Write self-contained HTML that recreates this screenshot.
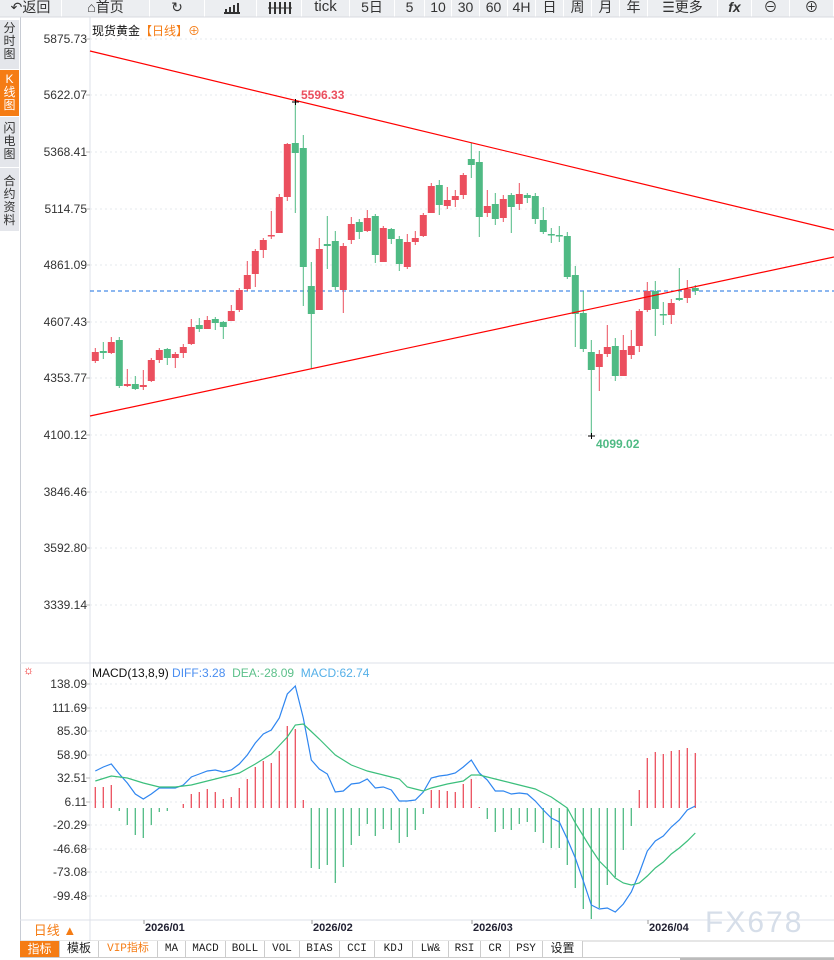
<!DOCTYPE html>
<html><head><meta charset="utf-8">
<style>
*{margin:0;padding:0;box-sizing:border-box}
body{width:834px;height:960px;background:#fff;position:relative;overflow:hidden;font-family:"Liberation Sans","Noto Sans CJK SC",sans-serif;color:#333}
.tb{position:absolute;top:0;height:17px;background:#eceef1;border-right:1px solid #fff;font-size:14px;line-height:14px;text-align:center;color:#333}
.side{position:absolute;left:0;width:19px;background:#e4e6eb;font-size:12px;line-height:13px;text-align:center;color:#333;border-bottom:1px solid #fff}
.bt{position:absolute;top:941px;height:16px;border-right:1px solid #ccc;font-family:"Liberation Mono","Noto Sans CJK SC",monospace;font-size:11px;line-height:16px;text-align:center;color:#222;background:#fff}
.pl{position:absolute;right:747px;font-size:12px;color:#333;line-height:12px}
</style></head><body>
<div class="tb" style="left:0;width:62px">↶返回</div>
<div class="tb" style="left:62px;width:88px">⌂首页</div>
<div class="tb" style="left:150px;width:55px">↻</div>
<div class="tb" style="left:205px;width:52px"></div>
<div class="tb" style="left:257px;width:45px"></div>
<div class="tb" style="left:302px;width:48px;font-size:15px">tick</div>
<div class="tb" style="left:350px;width:45px">5日</div>
<div class="tb" style="left:395px;width:30px">5</div>
<div class="tb" style="left:425px;width:27px">10</div>
<div class="tb" style="left:452px;width:28px">30</div>
<div class="tb" style="left:480px;width:28px">60</div>
<div class="tb" style="left:508px;width:28px">4H</div>
<div class="tb" style="left:536px;width:28px">日</div>
<div class="tb" style="left:564px;width:28px">周</div>
<div class="tb" style="left:592px;width:28px">月</div>
<div class="tb" style="left:620px;width:28px">年</div>
<div class="tb" style="left:648px;width:70px">☰更多</div>
<div class="tb" style="left:718px;width:34px;font-style:italic;font-weight:bold">fx</div>
<div class="tb" style="left:752px;width:38px">⊖</div>
<div class="tb" style="left:790px;width:44px">⊕</div>

<div class="side" style="top:20px;height:50px;padding-top:2px">分<br>时<br>图</div>
<div class="side" style="top:70px;height:47px;background:#f57c14;color:#fff;padding-top:3px">K<br>线<br>图</div>
<div class="side" style="top:117px;height:51px;padding-top:5px">闪<br>电<br>图</div>
<div class="side" style="top:168px;height:64px;padding-top:7px">合<br>约<br>资<br>料</div>
<div style="position:absolute;left:20px;top:17px;width:1px;height:940px;background:#c8ccd4"></div>

<div style="position:absolute;left:92px;top:22px;font-size:12px;color:#111">现货黄金<span style="color:#f57c14">【日线】⊕</span></div>
<div style="position:absolute;left:92px;top:666px;font-size:12px;color:#111">MACD(13,8,9) <span style="color:#4a8ef0">DIFF:3.28</span>&nbsp; <span style="color:#5cc08a">DEA:-28.09</span>&nbsp; <span style="color:#55b0e8">MACD:62.74</span></div>
<div style="position:absolute;left:23px;top:663px;font-size:12px;color:#e00">☼</div>

<div class="pl" style="top:33px">5875.73</div>
<div class="pl" style="top:89px">5622.07</div>
<div class="pl" style="top:146px">5368.41</div>
<div class="pl" style="top:203px">5114.75</div>
<div class="pl" style="top:259px">4861.09</div>
<div class="pl" style="top:316px">4607.43</div>
<div class="pl" style="top:372px">4353.77</div>
<div class="pl" style="top:429px">4100.12</div>
<div class="pl" style="top:486px">3846.46</div>
<div class="pl" style="top:542px">3592.80</div>
<div class="pl" style="top:599px">3339.14</div>
<div class="pl" style="top:678px">138.09</div>
<div class="pl" style="top:702px">111.69</div>
<div class="pl" style="top:725px">85.30</div>
<div class="pl" style="top:749px">58.90</div>
<div class="pl" style="top:772px">32.51</div>
<div class="pl" style="top:796px">6.11</div>
<div class="pl" style="top:819px">-20.29</div>
<div class="pl" style="top:843px">-46.68</div>
<div class="pl" style="top:866px">-73.08</div>
<div class="pl" style="top:890px">-99.48</div>

<svg id="s" width="834" height="960" style="position:absolute;left:0;top:0"></svg>

<div style="position:absolute;left:20px;top:920px;width:70px;height:21px;color:#f57c14;font-size:13px;line-height:21px;text-align:center">日线 ▲</div>
<div style="position:absolute;left:145px;top:922px;font-size:11px;font-weight:bold;color:#223">2026/01</div>
<div style="position:absolute;left:313px;top:922px;font-size:11px;font-weight:bold;color:#223">2026/02</div>
<div style="position:absolute;left:473px;top:922px;font-size:11px;font-weight:bold;color:#223">2026/03</div>
<div style="position:absolute;left:649px;top:922px;font-size:11px;font-weight:bold;color:#223">2026/04</div>
<div style="position:absolute;left:705px;top:906px;font-size:30px;letter-spacing:2px;color:#d6dee9">FX678</div>

<div class="bt" style="left:20px;width:40px;background:#f57c14;color:#fff;font-family:'Noto Sans CJK SC',sans-serif;font-size:12px">指标</div>
<div class="bt" style="left:60px;width:39px;font-size:12px">模板</div>
<div class="bt" style="left:99px;width:59px;color:#f57c14">VIP指标</div>
<div class="bt" style="left:158px;width:28px">MA</div>
<div class="bt" style="left:186px;width:40px">MACD</div>
<div class="bt" style="left:226px;width:39px">BOLL</div>
<div class="bt" style="left:265px;width:35px">VOL</div>
<div class="bt" style="left:300px;width:40px">BIAS</div>
<div class="bt" style="left:340px;width:35px">CCI</div>
<div class="bt" style="left:375px;width:38px">KDJ</div>
<div class="bt" style="left:413px;width:36px">LW&amp;</div>
<div class="bt" style="left:449px;width:32px">RSI</div>
<div class="bt" style="left:481px;width:29px">CR</div>
<div class="bt" style="left:510px;width:33px">PSY</div>
<div class="bt" style="left:543px;width:40px;font-size:12px">设置</div>
<div style="position:absolute;left:20px;top:957px;width:814px;height:1px;background:#ccc"></div>
<div style="position:absolute;left:680px;top:958px;width:154px;height:2px;background:#bbb"></div>

<script>
var C=[[352,361,348,363,'r'],[351,353,342,359,'g'],[342,353,337,354,'r'],[340,386,337,388,'g'],[384,386,369,387,'r'],[384,389,376,390,'g'],[385,387,370,390,'r'],[360,381,358,382,'r'],[350,360,348,363,'r'],[349,358,348,365,'g'],[354,358,352,368,'r'],[347,353,344,358,'r'],[327,344,319,345,'r'],[325,329,318,332,'g'],[320,329,316,329,'r'],[319,323,317,330,'g'],[322,327,321,339,'g'],[311,321,305,321,'r'],[290,310,288,312,'r'],[275,289,261,291,'r'],[251,274,249,287,'r'],[240,250,238,258,'r'],[235,236,211,239,'r'],[197,233,194,233,'r'],[144,197,143,201,'r'],[143,153,101,213,'g'],[148,267,135,306,'g'],[286,314,262,369,'g'],[249,310,238,310,'r'],[244,246,216,269,'g'],[241,287,231,290,'g'],[246,290,243,313,'r'],[224,240,217,244,'r'],[222,232,219,239,'g'],[218,231,210,232,'r'],[216,255,214,263,'g'],[228,262,226,262,'r'],[229,239,228,244,'g'],[239,264,236,271,'g'],[242,267,234,269,'r'],[238,242,231,245,'r'],[215,236,213,237,'r'],[186,213,183,213,'r'],[185,205,180,215,'g'],[200,206,187,209,'r'],[196,200,190,207,'r'],[175,195,173,199,'r'],[159,165,143,178,'g'],[162,217,151,237,'g'],[206,213,190,217,'r'],[204,219,193,225,'g'],[199,218,195,222,'r'],[195,207,193,233,'g'],[194,204,183,210,'r'],[195,198,193,203,'g'],[196,219,193,224,'g'],[220,232,207,234,'g'],[234,235,228,243,'g'],[235,236,226,242,'g'],[236,277,232,279,'g'],[275,314,266,347,'g'],[313,349,291,352,'g'],[352,370,340,436,'g'],[354,367,350,391,'r'],[347,354,325,357,'r'],[346,376,338,381,'g'],[350,376,335,376,'r'],[346,355,330,359,'r'],[311,346,309,352,'r'],[291,310,282,312,'r'],[291,309,281,336,'g'],[314,315,302,325,'g'],[303,315,299,324,'r'],[298,300,268,301,'g'],[289,298,280,303,'r'],[288,291,285,295,'g']];
var H=[787,787,785,811,825,835,838,825,812,811,808,804,794,792,789,792,799,797,788,779,767,761,763,751,726,729,800,868,869,865,883,867,845,836,824,836,829,830,843,837,830,814,790,790,791,792,784,779,807,819,832,829,830,824,822,832,843,848,848,865,888,909,919,908,885,877,850,826,790,758,752,754,751,750,748,753];
var D=[771,767,764,774,783,794,799,794,788,788,788,785,777,774,771,770,772,770,764,755,743,734,730,718,694,686,718,760,769,774,792,791,784,783,779,788,787,790,801,801,800,792,778,776,775,773,767,760,773,780,791,791,794,793,794,801,810,818,822,839,858,881,905,909,908,912,904,892,873,851,841,836,827,820,810,806];
var EK={0:781,2:776,4:778,6:783,8:787,10:787,12:785,14:781,16:777,18:773,20:764,22:754,24:737,25:725,26:724,28:739,30:755,32:765,34:771,36:775,38:779,39:787,41:791,42:788,44:784,46:781,47:775,48:775,50:779,52:783,54:787,55:789,57:797,59:808,60:823,61:836,62:849,63:861,64:869,65:878,66:883,67:885,68:883,69:876,70:868,71:862,72:854,73:848,74:841,75:833};
var E=[],ks=Object.keys(EK).map(Number);
for(var i=0;i<76;i++){if(EK[i]!=null){E[i]=EK[i];continue;}var a=ks.filter(k=>k<i).pop(),b=ks.find(k=>k>i);E[i]=EK[a]+(EK[b]-EK[a])*(i-a)/(b-a);}
var X=i=>95.3+i*8;
var s='';
s+='<path d="M224 13h16M226 13v-4M230 13v-6M234 13v-8M238 13v-10M270 2v12M275 2v12M280 2v12M285 2v12M290 2v12" stroke="#333" stroke-width="2"/>';
s+='<path d="M268 8h24" stroke="#333" stroke-width="1"/>';
s+='<line x1="90" y1="17" x2="90" y2="941" stroke="#dde1e8"/>';
s+='<line x1="20" y1="663" x2="834" y2="663" stroke="#dde1e8"/>';
s+='<line x1="20" y1="920" x2="834" y2="920" stroke="#dde1e8"/>';
s+='<line x1="20" y1="941" x2="834" y2="941" stroke="#ccc"/>';
s+='<line x1="0" y1="17" x2="834" y2="17" stroke="#d8dbe0"/>';
[39,95,152,209,265,322,378,435,492,548,605,684,708,731,755,778,802,825,849,872,896].forEach(y=>{s+='<line x1="90" y1="'+y+'" x2="834" y2="'+y+'" stroke="#e6e8ec" stroke-dasharray="2,3"/><line x1="86" y1="'+y+'" x2="90" y2="'+y+'" stroke="#bbb"/>';});
[145,313,473,649].forEach(x=>{s+='<line x1="'+(x-1)+'" y1="920" x2="'+(x-1)+'" y2="924" stroke="#999"/>';});
s+='<line x1="90" y1="291" x2="834" y2="291" stroke="#1a6fe0" stroke-dasharray="4,3"/>';
C.forEach((c,i)=>{var x=X(i),col=c[4]=='r'?'#eb4f5e':'#4fba84';s+='<line x1="'+x+'" y1="'+c[2]+'" x2="'+x+'" y2="'+c[3]+'" stroke="'+col+'"/><rect x="'+(x-3.5)+'" y="'+c[0]+'" width="7" height="'+Math.max(1.5,c[1]-c[0])+'" fill="'+col+'"/>';});
s+='<line x1="90" y1="51" x2="834" y2="230" stroke="#f00" stroke-width="1.2"/>';
s+='<line x1="90" y1="416" x2="834" y2="257" stroke="#f00" stroke-width="1.2"/>';
s+='<path d="M292 102h7M295.5 99v6M588 436h7M591.5 433v6" stroke="#000"/>';
s+='<text x="301" y="99" font-size="12" fill="#eb4f5e" font-weight="bold" font-family="Liberation Sans">5596.33</text>';
s+='<text x="596" y="448" font-size="12" fill="#4fba84" font-weight="bold" font-family="Liberation Sans">4099.02</text>';
H.forEach((h,i)=>{var x=X(i);s+='<line x1="'+x+'" y1="808" x2="'+x+'" y2="'+h+'" stroke="'+(h<808?'#eb4f5e':'#4fba84')+'" stroke-width="1.3"/>';});
s+='<polyline fill="none" stroke="#2f86f0" stroke-width="1.2" points="'+D.map((y,i)=>X(i)+','+y).join(' ')+'"/>';
s+='<polyline fill="none" stroke="#3cbf7c" stroke-width="1.2" points="'+E.map((y,i)=>X(i)+','+y).join(' ')+'"/>';
document.getElementById('s').innerHTML=s;
</script>
</body></html>
